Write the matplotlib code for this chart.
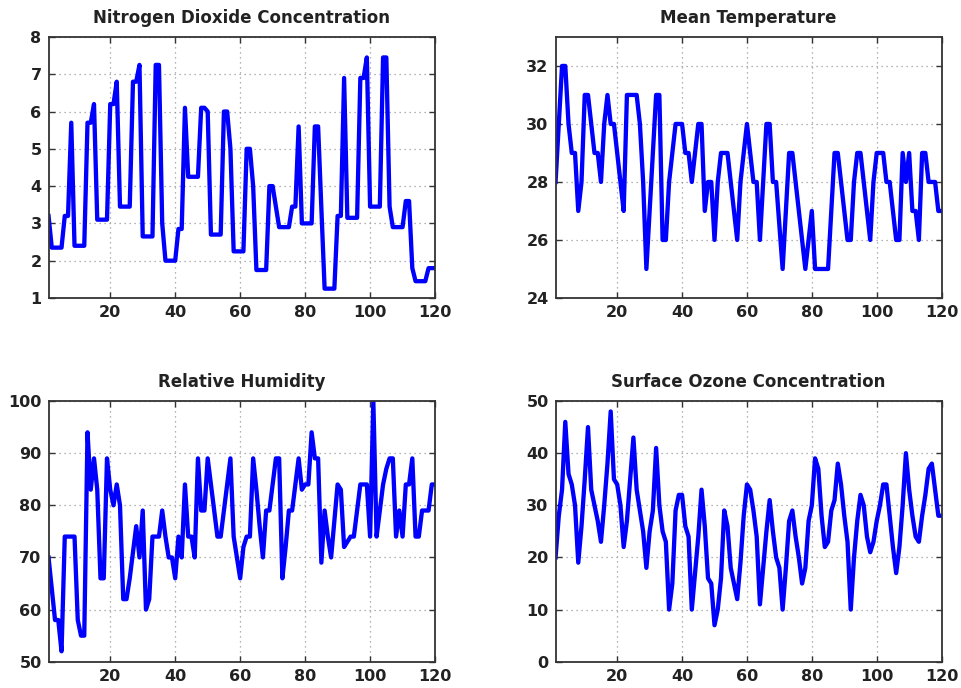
import numpy as np
import matplotlib
matplotlib.use("Agg")
import matplotlib.pyplot as plt

plt.rcParams["font.family"] = ["DejaVu Sans"]

# dias 1..120
dias = np.arange(1, 121)

no2 = [
    3.2, 2.35, 2.35, 2.35, 2.35, 3.2, 3.2, 5.7, 2.4, 2.4,
    2.4, 2.4, 5.7, 5.7, 6.2, 3.1, 3.1, 3.1, 3.1, 6.2,
    6.2, 6.8, 3.45, 3.45, 3.45, 3.45, 6.8, 6.8, 7.25, 2.65,
    2.65, 2.65, 2.65, 7.25, 7.25, 3.0, 2.0, 2.0, 2.0, 2.0,
    2.85, 2.85, 6.1, 4.25, 4.25, 4.25, 4.25, 6.1, 6.1, 6.0,
    2.7, 2.7, 2.7, 2.7, 6.0, 6.0, 5.0, 2.25, 2.25, 2.25,
    2.25, 5.0, 5.0, 4.0, 1.75, 1.75, 1.75, 1.75, 4.0, 4.0,
    3.45, 2.9, 2.9, 2.9, 2.9, 3.45, 3.45, 5.6, 3.0, 3.0,
    3.0, 3.0, 5.6, 5.6, 3.4, 1.25, 1.25, 1.25, 1.25, 3.2,
    3.2, 6.9, 3.15, 3.15, 3.15, 3.15, 6.9, 6.9, 7.45, 3.45,
    3.45, 3.45, 3.45, 7.45, 7.45, 3.45, 2.9, 2.9, 2.9, 2.9,
    3.6, 3.6, 1.8, 1.45, 1.45, 1.45, 1.45, 1.8, 1.8, 1.8,
]

temperatura = [
    28, 30, 32, 32, 30, 29, 29, 27, 28, 31,
    31, 30, 29, 29, 28, 30, 31, 30, 30, 29,
    28, 27, 31, 31, 31, 31, 30, 28, 25, 27,
    29, 31, 31, 26, 26, 28, 29, 30, 30, 30,
    29, 29, 28, 29, 30, 30, 27, 28, 28, 26,
    28, 29, 29, 29, 28, 27, 26, 28, 29, 30,
    29, 28, 28, 26, 28, 30, 30, 28, 28, 26.5,
    25, 27, 29, 29, 28, 27, 26, 25, 26, 27,
    25, 25, 25, 25, 25, 27, 29, 29, 28, 27,
    26, 26, 28, 29, 29, 28, 27, 26, 28, 29,
    29, 29, 28, 28, 27, 26, 26, 29, 28, 29,
    27, 27, 26, 29, 29, 28, 28, 28, 27, 27,
]

umidade = [
    70, 64, 58, 58, 52, 74, 74, 74, 74, 58,
    55, 55, 94, 83, 89, 83, 66, 66, 89, 83,
    80, 84, 80, 62, 62, 66, 71, 76, 70, 79,
    60, 62, 74, 74, 74, 79, 74, 70, 70, 66,
    74, 70, 84, 74, 74, 70, 89, 79, 79, 89,
    84, 79, 74, 74, 79, 84, 89, 74, 70, 66,
    72, 74, 74, 89, 83, 76, 70, 79, 79, 84,
    89, 89, 66, 72, 79, 79, 84, 89, 83, 84,
    84, 94, 89, 89, 69, 79, 74, 70, 77, 84,
    83, 72, 73, 74, 74, 79, 84, 84, 84, 74,
    100, 74, 79, 84, 87, 89, 89, 74, 79, 74,
    84, 84, 89, 74, 74, 79, 79, 79, 84, 84,
]

ozonio = [
    20, 28, 33, 46, 36, 34, 30, 19, 26, 35,
    45, 33, 30, 27, 23, 30, 38, 48, 35, 34,
    30, 22, 27, 35, 43, 33, 29, 25, 18, 25,
    29, 41, 30, 25, 23, 10, 15, 29, 32, 32,
    26, 24, 10, 17, 24, 33, 26, 16, 15, 7,
    10, 16, 29, 26, 18, 15, 12, 19, 28, 34,
    33, 29, 24, 11, 18, 25, 31, 25, 20, 18,
    10, 18, 27, 29, 24, 20, 15, 18, 27, 30,
    39, 37, 28, 22, 23, 29, 31, 38, 34, 28,
    23, 10, 20, 27, 32, 30, 24, 21, 23, 27,
    30, 34, 34, 28, 22, 17, 22, 30, 40, 33,
    28, 24, 23, 28, 32, 37, 38, 33, 28, 28,
]

x_ticks = [20, 40, 60, 80, 100, 120]

# (titulo, serie, ylim, yticks, posicao do eixo)
paineis = [
    ("Nitrogen Dioxide Concentration", no2, (1, 8), range(1, 9),
     [0.0505, 0.5669, 0.4022, 0.3794]),
    ("Mean Temperature", temperatura, (24, 33), range(24, 33, 2),
     [0.5781, 0.5669, 0.4017, 0.3794]),
    ("Relative Humidity", umidade, (50, 100), range(50, 101, 10),
     [0.0505, 0.0382, 0.4022, 0.3789]),
    ("Surface Ozone Concentration", ozonio, (0, 50), range(0, 51, 10),
     [0.5781, 0.0382, 0.4017, 0.3789]),
]

fig = plt.figure(figsize=(9.61, 6.88), dpi=100)

for titulo, serie, ylim, yticks, pos in paineis:
    ax = fig.add_axes(pos)
    ax.plot(dias, serie, color="#0000ff", linewidth=3.1, solid_joinstyle="round")
    ax.set_xlim(1, 120)
    ax.set_ylim(*ylim)
    ax.set_xticks(x_ticks)
    ax.set_yticks(list(yticks))
    ax.grid(True, linestyle=(0, (1, 3)), color="#9a9a9a", linewidth=0.9)
    ax.tick_params(direction="in", top=True, right=True, length=4,
                   width=1.0, colors="#333333", labelsize=11.5, pad=5)
    for lab in ax.get_xticklabels() + ax.get_yticklabels():
        lab.set_fontweight("bold")
        lab.set_color("#222222")
    for sp in ax.spines.values():
        sp.set_linewidth(1.3)
        sp.set_color("#333333")
    ax.set_title(titulo, fontsize=12, fontweight="bold", color="#222222", pad=10)

fig.savefig("out.png", dpi=100)
